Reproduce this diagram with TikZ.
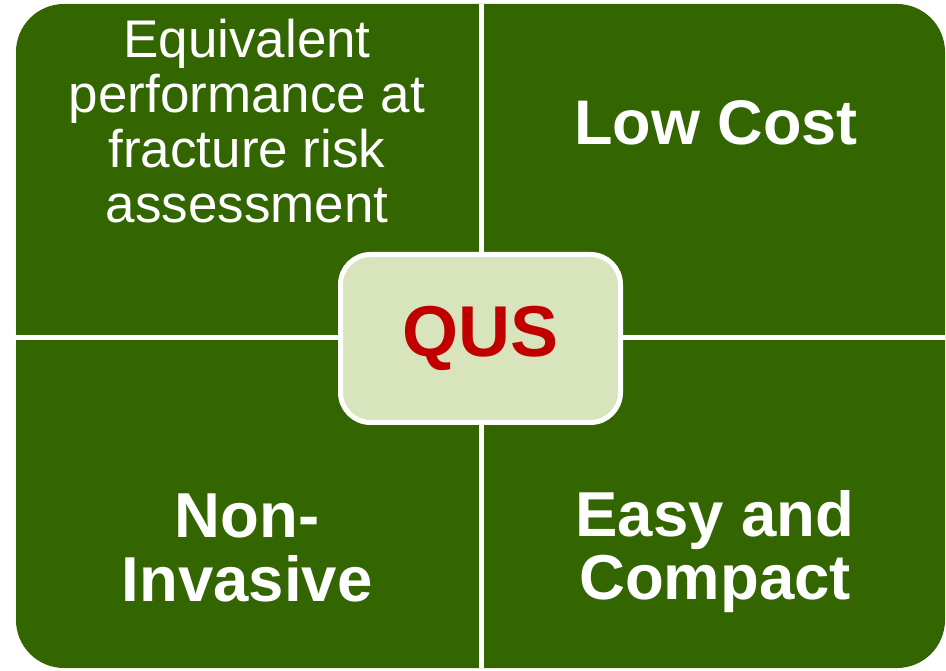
\documentclass[tikz,border=0pt]{standalone}
\usepackage{fontspec}
\setmainfont{Liberation Sans}
\usepackage{tikz}

\definecolor{quadgreen}{HTML}{336600}
\definecolor{hubfill}{HTML}{D8E4BC}
\definecolor{hubred}{HTML}{C00000}

\tikzset{
  quad/.style={fill=quadgreen},
  quadtext/.style={text=white, align=center, anchor=base, inner sep=0pt},
  hub/.style={draw=white, line width=5pt, fill=hubfill, rounded corners=30pt,
    minimum width=280pt, minimum height=168pt, text=hubred,
    font=\fontsize{72}{80}\selectfont\bfseries}
}

\begin{document}
\begin{tikzpicture}[x=1pt,y=1pt]
\useasboundingbox (0,0) rectangle (946,670);
\fill[quad,rounded corners=48pt] (16,2) rectangle (945,666);
\draw[white,line width=5pt] (481,2) -- (481,666);
\draw[white,line width=5pt] (16,332.5) -- (945,332.5);

\node[quadtext,font=\fontsize{53}{55}\selectfont] (perf) at (247,447)
  {Equivalent\\performance at\\fracture risk\\assessment};
\node[quadtext,font=\fontsize{63}{64}\selectfont\bfseries] (cost) at (716,525) {Low Cost};
\node[quadtext,font=\fontsize{63.5}{64}\selectfont\bfseries] (inv) at (247,68) {Non-\\Invasive};
\node[quadtext,font=\fontsize{63.5}{63}\selectfont\bfseries] (easy) at (715,70) {Easy and\\Compact};

\node[hub] (qus) at (480.5,331.5) {QUS};
\end{tikzpicture}
\end{document}
